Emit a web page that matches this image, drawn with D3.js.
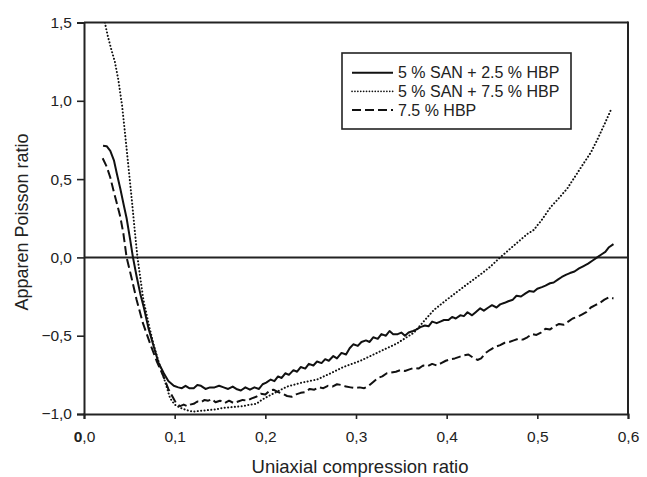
<!DOCTYPE html>
<html>
<head>
<meta charset="utf-8">
<script src="https://cdn.jsdelivr.net/npm/d3@7"></script>
<style>
  body { margin: 0; background: #fff; }
  svg { display: block; }
  text { font-family: "Liberation Sans", Arial, sans-serif; fill: #222; }
</style>
</head>
<body>
<svg></svg>
<script>
const WIDTH = 647;
const HEIGHT = 477;

// plot area in pixels
const plotL = 84, plotR = 628, plotT = 22.5, plotB = 414;

const xTicks = [0, 0.1, 0.2, 0.3, 0.4, 0.5, 0.6];
const yTicks = [-1.0, -0.5, 0.0, 0.5, 1.0, 1.5];

const seriesNames = ["5 % SAN + 2.5 % HBP", "5 % SAN + 7.5 % HBP", "7.5 % HBP"];

// 5 % SAN + 2.5 % HBP (solid)
const san25 = [
  [0.021,0.713],[0.025,0.71],[0.029,0.68],[0.033,0.62],[0.036,0.54],[0.040,0.44],[0.044,0.33],[0.047,0.25],
  [0.051,0.11],[0.054,0.0],[0.058,-0.12],[0.062,-0.23],[0.066,-0.32],[0.071,-0.45],[0.077,-0.57],[0.082,-0.67],
  [0.088,-0.74],[0.093,-0.79],[0.099,-0.82],[0.104,-0.83],[0.108,-0.835],[0.112,-0.82],[0.116,-0.835],[0.121,-0.835],
  [0.125,-0.815],[0.129,-0.82],[0.134,-0.84],[0.139,-0.83],[0.144,-0.83],[0.149,-0.82],[0.154,-0.83],[0.159,-0.84],
  [0.164,-0.825],[0.168,-0.84],[0.173,-0.85],[0.178,-0.83],[0.183,-0.845],[0.188,-0.83],[0.193,-0.84],[0.197,-0.81],
  [0.201,-0.80],[0.206,-0.78],[0.210,-0.79],[0.214,-0.76],[0.218,-0.77],[0.222,-0.74],[0.226,-0.75],[0.231,-0.72],
  [0.235,-0.73],[0.239,-0.70],[0.244,-0.71],[0.248,-0.68],[0.253,-0.69],[0.257,-0.665],[0.262,-0.675],[0.266,-0.65],
  [0.270,-0.66],[0.275,-0.63],[0.279,-0.645],[0.284,-0.61],[0.289,-0.62],[0.293,-0.58],[0.297,-0.555],[0.302,-0.565],
  [0.306,-0.54],[0.311,-0.53],[0.315,-0.54],[0.319,-0.51],[0.324,-0.52],[0.328,-0.49],[0.333,-0.50],[0.337,-0.47],
  [0.341,-0.49],[0.346,-0.49],[0.350,-0.48],[0.354,-0.50],[0.358,-0.48],[0.363,-0.47],[0.367,-0.46],[0.371,-0.445],
  [0.376,-0.435],[0.380,-0.44],[0.384,-0.41],[0.389,-0.42],[0.393,-0.41],[0.397,-0.40],[0.402,-0.40],[0.406,-0.38],
  [0.410,-0.39],[0.415,-0.37],[0.419,-0.375],[0.423,-0.35],[0.428,-0.37],[0.432,-0.35],[0.437,-0.325],[0.441,-0.34],
  [0.446,-0.32],[0.450,-0.305],[0.455,-0.32],[0.459,-0.30],[0.464,-0.29],[0.468,-0.28],[0.473,-0.27],[0.477,-0.245],
  [0.482,-0.25],[0.487,-0.23],[0.491,-0.215],[0.496,-0.22],[0.500,-0.20],[0.505,-0.19],[0.509,-0.18],[0.514,-0.165],
  [0.518,-0.16],[0.523,-0.14],[0.527,-0.125],[0.532,-0.11],[0.536,-0.10],[0.541,-0.09],[0.546,-0.07],[0.551,-0.055],
  [0.556,-0.04],[0.561,-0.02],[0.566,0.0],[0.571,0.02],[0.575,0.035],[0.579,0.065],[0.584,0.085]
];

// 5 % SAN + 7.5 % HBP (dotted)
const san75 = [
  [0.023,1.5],[0.026,1.42],[0.030,1.33],[0.034,1.25],[0.038,1.13],[0.042,0.97],[0.0453,0.79],[0.049,0.58],
  [0.0527,0.37],[0.056,0.17],[0.059,0.0],[0.0655,-0.27],[0.0715,-0.43],[0.0765,-0.55],[0.082,-0.66],[0.0876,-0.76],
  [0.095,-0.90],[0.100,-0.94],[0.106,-0.96],[0.113,-0.975],[0.120,-0.985],[0.128,-0.98],[0.137,-0.975],[0.146,-0.97],
  [0.154,-0.96],[0.165,-0.955],[0.175,-0.95],[0.183,-0.94],[0.190,-0.935],[0.196,-0.91],[0.202,-0.89],[0.212,-0.86],
  [0.224,-0.825],[0.240,-0.80],[0.257,-0.78],[0.272,-0.74],[0.286,-0.70],[0.305,-0.66],[0.323,-0.61],[0.345,-0.55],
  [0.364,-0.48],[0.376,-0.40],[0.386,-0.335],[0.399,-0.275],[0.4115,-0.22],[0.424,-0.165],[0.437,-0.11],[0.448,-0.06],
  [0.459,0.0],[0.470,0.055],[0.481,0.11],[0.489,0.15],[0.496,0.175],[0.505,0.24],[0.5145,0.32],[0.524,0.38],
  [0.533,0.44],[0.542,0.52],[0.551,0.60],[0.559,0.67],[0.566,0.75],[0.574,0.85],[0.581,0.94]
];

// 7.5 % HBP (dashed)
const hbp75 = [
  [0.0206,0.633],[0.025,0.58],[0.029,0.51],[0.0324,0.43],[0.036,0.35],[0.040,0.26],[0.0434,0.154],[0.047,0.0],
  [0.052,-0.12],[0.058,-0.27],[0.065,-0.42],[0.0729,-0.55],[0.080,-0.66],[0.0876,-0.76],[0.093,-0.84],[0.0986,-0.90],
  [0.102,-0.935],[0.106,-0.95],[0.110,-0.94],[0.114,-0.95],[0.117,-0.94],[0.121,-0.935],[0.125,-0.92],[0.129,-0.925],
  [0.133,-0.91],[0.137,-0.915],[0.141,-0.905],[0.145,-0.925],[0.150,-0.915],[0.155,-0.93],[0.160,-0.915],[0.165,-0.93],
  [0.170,-0.92],[0.175,-0.91],[0.180,-0.915],[0.185,-0.9],[0.190,-0.89],[0.195,-0.87],[0.200,-0.875],[0.205,-0.85],
  [0.209,-0.845],[0.214,-0.86],[0.219,-0.87],[0.224,-0.885],[0.229,-0.89],[0.234,-0.875],[0.239,-0.865],[0.244,-0.86],
  [0.249,-0.84],[0.254,-0.845],[0.259,-0.83],[0.264,-0.835],[0.269,-0.82],[0.274,-0.825],[0.279,-0.81],[0.284,-0.815],
  [0.289,-0.825],[0.294,-0.83],[0.299,-0.835],[0.304,-0.83],[0.309,-0.835],[0.314,-0.82],[0.319,-0.795],[0.324,-0.77],
  [0.329,-0.76],[0.334,-0.74],[0.339,-0.735],[0.344,-0.73],[0.349,-0.72],[0.354,-0.725],[0.359,-0.715],[0.364,-0.705],
  [0.369,-0.71],[0.374,-0.69],[0.379,-0.695],[0.384,-0.68],[0.389,-0.69],[0.394,-0.675],[0.399,-0.66],[0.404,-0.65],
  [0.409,-0.645],[0.414,-0.635],[0.419,-0.625],[0.424,-0.62],[0.429,-0.64],[0.434,-0.655],[0.438,-0.645],[0.443,-0.61],
  [0.448,-0.59],[0.454,-0.57],[0.459,-0.56],[0.464,-0.545],[0.469,-0.54],[0.474,-0.53],[0.479,-0.52],[0.484,-0.525],
  [0.489,-0.51],[0.494,-0.49],[0.499,-0.495],[0.504,-0.48],[0.509,-0.455],[0.514,-0.46],[0.519,-0.44],[0.524,-0.425],
  [0.529,-0.43],[0.534,-0.41],[0.539,-0.39],[0.544,-0.38],[0.549,-0.365],[0.554,-0.35],[0.559,-0.32],[0.564,-0.305],
  [0.569,-0.29],[0.574,-0.27],[0.579,-0.255],[0.584,-0.262]
];

const dashes = [null, "0.1,3.3", "9,4"];
const widths = [2, 2, 2];
const caps = ["butt", "round", "butt"];
const seriesData = [san25, san75, hbp75];

var svg = d3.select("svg").attr("width", WIDTH).attr("height", HEIGHT);

var x = d3.scaleLinear().domain([0, 0.6]).range([plotL, plotR]);
var y = d3.scaleLinear().domain([-1, 1.5]).range([plotB, plotT]);

const comma = (d) => d3.format(".1f")(d).replace(".", ",");

svg.append("clipPath").attr("id", "plot")
  .append("rect")
  .attr("x", plotL).attr("y", plotT)
  .attr("width", plotR - plotL).attr("height", plotB - plotT);

// frame: top and right lines
svg.append("line")
  .attr("x1", plotL).attr("x2", plotR).attr("y1", plotT).attr("y2", plotT)
  .attr("stroke", "#222").attr("stroke-width", 2);
svg.append("line")
  .attr("x1", plotR).attr("x2", plotR).attr("y1", plotT - 1).attr("y2", plotB + 1)
  .attr("stroke", "#222").attr("stroke-width", 2);

// zero line
svg.append("line")
  .attr("x1", plotL).attr("x2", plotR).attr("y1", y(0)).attr("y2", y(0))
  .attr("stroke", "#222").attr("stroke-width", 2);

var yAxis = svg.append("g")
  .attr("transform", "translate(" + plotL + ",0)")
  .call(d3.axisLeft(y).tickValues(yTicks).tickSize(7).tickPadding(5).tickFormat(comma));

var xAxis = svg.append("g")
  .attr("transform", "translate(0," + plotB + ")")
  .call(d3.axisBottom(x).tickValues(xTicks).tickSize(5).tickPadding(12).tickFormat(comma));

[yAxis, xAxis].forEach(function (ax) {
  ax.select(".domain").attr("stroke", "#222").attr("stroke-width", 2);
  ax.selectAll(".tick line").attr("stroke", "#222").attr("stroke-width", 1.6);
  ax.selectAll(".tick text")
    .attr("font-family", "Liberation Sans, Arial, sans-serif")
    .attr("font-size", 15.5).attr("fill", "#222");
});

// first x label has a bold leading zero
xAxis.selectAll(".tick text").filter((d) => d === 0)
  .text(null)
  .call((t) => {
    t.append("tspan").attr("font-weight", "bold").text("0");
    t.append("tspan").text(",0");
  });

var line = d3.line().x((d) => x(d[0])).y((d) => y(d[1]));

svg.append("g").attr("clip-path", "url(#plot)")
  .selectAll("path")
  .data(seriesData)
  .enter()
  .append("path")
  .attr("d", line)
  .attr("fill", "none")
  .attr("stroke", "#111")
  .attr("stroke-width", (d, i) => widths[i])
  .attr("stroke-dasharray", (d, i) => dashes[i])
  .attr("stroke-linecap", (d, i) => caps[i])
  .attr("stroke-linejoin", "round");

// legend
const lgX = 342, lgY = 53, lgW = 229, lgH = 76;
svg.append("rect")
  .attr("x", lgX).attr("y", lgY).attr("width", lgW).attr("height", lgH)
  .attr("fill", "#fff").attr("stroke", "#222").attr("stroke-width", 1.6);

var items = svg.selectAll("g.leg").data(seriesNames).enter()
  .append("g").attr("class", "leg")
  .attr("transform", (d, i) => "translate(0," + (72.7 + i * 18.7) + ")");

items.append("line")
  .attr("x1", 352).attr("x2", 393).attr("y1", 0).attr("y2", 0)
  .attr("stroke", "#111")
  .attr("stroke-width", (d, i) => (i === 1 ? 1.6 : widths[i]))
  .attr("stroke-dasharray", (d, i) => (i === 1 ? "0.1,2.8" : dashes[i]))
  .attr("stroke-linecap", (d, i) => caps[i]);

items.append("text")
  .attr("x", 398).attr("y", 5.5)
  .attr("font-size", 16)
  .text((d) => d);

// axis titles
svg.append("text")
  .attr("x", 360).attr("y", 473)
  .attr("text-anchor", "middle")
  .attr("font-size", 18.5)
  .text("Uniaxial compression ratio");

svg.append("text")
  .attr("transform", "translate(28,222) rotate(-90)")
  .attr("text-anchor", "middle")
  .attr("font-size", 18)
  .text("Apparen Poisson ratio");
</script>
</body>
</html>
